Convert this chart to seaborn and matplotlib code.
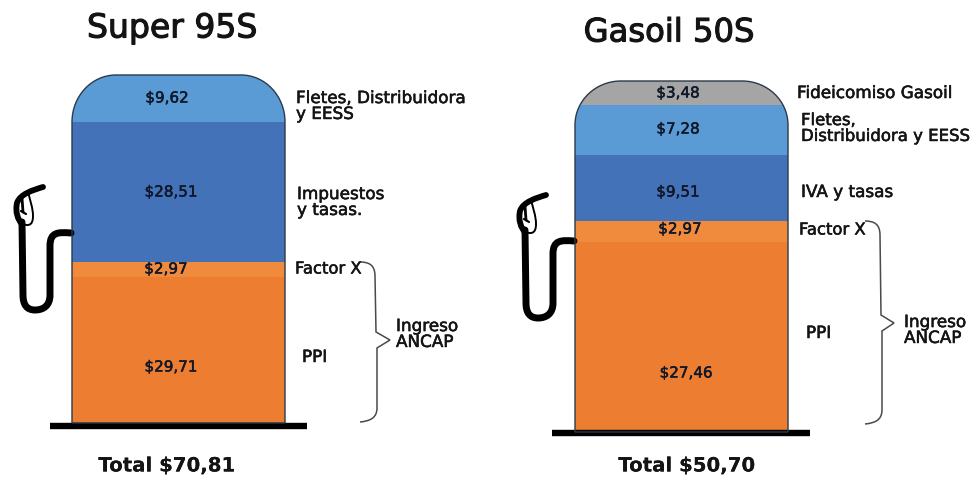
import matplotlib
matplotlib.use("Agg")
import matplotlib.pyplot as plt
from matplotlib.patches import PathPatch
from matplotlib.path import Path
import matplotlib.patheffects as pe
import pandas as pd
import seaborn as sns

sns.set_theme(style="white")
plt.rcParams['font.family'] = ['DejaVu Sans']

# ---- data ----
super_parts = ["PPI", "Factor X", "Impuestos", "Fletes"]
super_values = [29.71, 2.97, 28.51, 9.62]
super_labels = ["$29,71", "$2,97", "$28,51", "$9,62"]
gasoil_parts = ["PPI", "Factor X", "IVA", "Fletes", "Fideicomiso"]
gasoil_values = [27.46, 2.97, 9.51, 7.28, 3.48]
gasoil_labels = ["$27,46", "$2,97", "$9,51", "$7,28", "$3,48"]
part_colors = ["#ED7D31", "#F08A3C", "#4472B8", "#5B9BD5", "#A5A5A5"]

W, H = 972, 478
fig = plt.figure(figsize=(W / 100, H / 100), dpi=100, facecolor="white")

# overlay in pixel coordinates for the decoration
ov = fig.add_axes([0, 0, 1, 1], zorder=5)
ov.set_xlim(0, W)
ov.set_ylim(H, 0)
ov.axis("off")
ov.patch.set_alpha(0)


def body_path(x0, x1, top, bot, rx, ry):
    k = 0.5523
    verts = [(x0, bot), (x0, top + ry),
             (x0, top + ry * (1 - k)), (x0 + rx * (1 - k), top), (x0 + rx, top),
             (x1 - rx, top),
             (x1 - rx * (1 - k), top), (x1, top + ry * (1 - k)), (x1, top + ry),
             (x1, bot), (x0, bot)]
    codes = [Path.MOVETO, Path.LINETO, Path.CURVE4, Path.CURVE4, Path.CURVE4,
             Path.LINETO, Path.CURVE4, Path.CURVE4, Path.CURVE4, Path.LINETO,
             Path.CLOSEPOLY]
    return Path(verts, codes)


def txt(x, y, s, size=12.1, stroke=0.4, ha="left", ls=0.85, color="#141414", weight="normal"):
    ov.text(x, y, s, fontsize=size, ha=ha, va="center", color=color, linespacing=ls,
            fontweight=weight,
            path_effects=[pe.withStroke(linewidth=stroke, foreground=color)])


def pump(x0, x1, top, bot, rx, ry, name, parts, values):
    ax = fig.add_axes([x0 / W, 1 - bot / H, (x1 - x0) / W, (bot - top) / H], zorder=2)
    body = PathPatch(body_path(x0, x1, top, bot, rx, ry), transform=ov.transData,
                     facecolor="none", edgecolor="#2b3a4a", linewidth=1.0, zorder=6)
    ov.add_patch(body)
    base = 0.0
    for part, value, color in zip(parts, values, part_colors):
        df = pd.DataFrame({"pump": [name], "value": [value]})
        n0 = len(ax.patches)
        sns.barplot(data=df, x="pump", y="value", bottom=base, width=1.0, color=color,
                    saturation=1, ax=ax, linewidth=0, errorbar=None)
        for b in ax.patches[n0:]:
            b.set_clip_path(body.get_path(), ov.transData)
        base += value
    ax.set_xlim(-0.5, 0.5)
    ax.set_ylim(0, sum(values))
    ax.axis("off")


pump(72, 285, 75, 423, 44, 47, "Super 95S", super_parts, super_values)
pump(575, 788, 81, 432, 46, 44, "Gasoil 50S", gasoil_parts, gasoil_values)

# value labels, placed where the original has them
for s, x, y in zip(super_labels, [171, 166, 171, 167], [367, 269, 192, 98]):
    txt(x, y, s, 10.9, 0.35, "center", color="#10182a")
for s, x, y in zip(gasoil_labels, [686, 680, 678, 678, 678], [373, 229, 192, 129, 93]):
    txt(x, y, s, 10.9, 0.35, "center", color="#10182a")

# bases
ov.plot([50, 307], [426, 426], color="black", lw=4.6, solid_capstyle="butt")
ov.plot([552, 810], [432.5, 432.5], color="black", lw=4.6, solid_capstyle="butt")

# titles and totals
txt(172, 28, "Super 95S", 23.8, 0.8, "center")
txt(669, 33, "Gasoil 50S", 23.2, 0.8, "center")
txt(167, 466, "Total $70,81", 14.2, 0, "center", weight="bold")
txt(687, 466, "Total $50,70", 14.2, 0, "center", weight="bold")

# left labels
txt(296, 106, "Fletes, Distribuidora\ny EESS")
txt(297, 202, "Impuestos\ny tasas.")
txt(295, 269, "Factor X", 11.8)
txt(302, 357, "PPI")
txt(396, 334, "Ingreso\nANCAP")
# right labels
txt(797, 93, "Fideicomiso Gasoil")
txt(801, 128, "Fletes,\nDistribuidora y EESS", 11.9)
txt(801, 192, "IVA y tasas")
txt(799, 230, "Factor X", 11.8)
txt(806, 333, "PPI")
txt(904, 330, "Ingreso\nANCAP")


def curve(points, codes, **kw):
    ov.add_patch(PathPatch(Path(points, codes), facecolor="none", **kw))


def brace(x, y0, ymid, y1, tip):
    C, M, L = Path.CURVE4, Path.MOVETO, Path.LINETO
    pts = [(x - 15, y0), (x - 6, y0), (x, y0 + 3), (x, y0 + 14),
           (x + 1, ymid - 8), (x + tip, ymid), (x + 2, ymid + 8),
           (x + 2, y1 - 14), (x + 2, y1 - 4), (x - 5, y1 - 1), (x - 15, y1)]
    codes = [M, C, C, C, L, L, L, L, C, C, C]
    curve(pts, codes, edgecolor="#4a4a4a", lw=1.1)


brace(375, 262, 340, 422, 15)
brace(880, 221, 323, 424, 14)


def nozzle(dx, dy):
    C, M, L = Path.CURVE4, Path.MOVETO, Path.LINETO
    shift = lambda pts: [(a + dx, b + dy) for a, b in pts]
    # hose
    pts = [(71, 233), (58, 232), (50, 232), (50, 246),
           (50, 295),
           (50, 306), (43, 310), (35, 310), (27, 310), (23, 305), (23, 295),
           (22, 222)]
    codes = [M, C, C, C, L, C, C, C, C, C, C, L]
    curve(shift(pts), codes, edgecolor="black", lw=5.0, capstyle="round", joinstyle="round")
    # thick outer part of the handle
    pts = [(43, 187), (33, 190), (20, 194), (17, 203), (15, 212), (18, 220), (22, 224)]
    codes = [M, C, C, C, C, C, C]
    curve(shift(pts), codes, edgecolor="black", lw=4.2, capstyle="round", joinstyle="round")
    # thin inner part of the handle
    pts = [(22, 224), (28, 226), (33, 226), (33, 216), (33, 208), (30, 200), (28, 192)]
    codes = [M, C, C, C, C, C, C]
    curve(shift(pts), codes, edgecolor="black", lw=1.4, capstyle="round", joinstyle="round")
    ov.plot([21 + dx, 26 + dx], [211 + dy, 214 + dy], color="black", lw=1.6)
    ov.plot([22 + dx, 23 + dx], [198 + dy, 212 + dy], color="black", lw=2.0)


nozzle(0, 0)
nozzle(503, 8)

fig.savefig("out.png", dpi=100)
